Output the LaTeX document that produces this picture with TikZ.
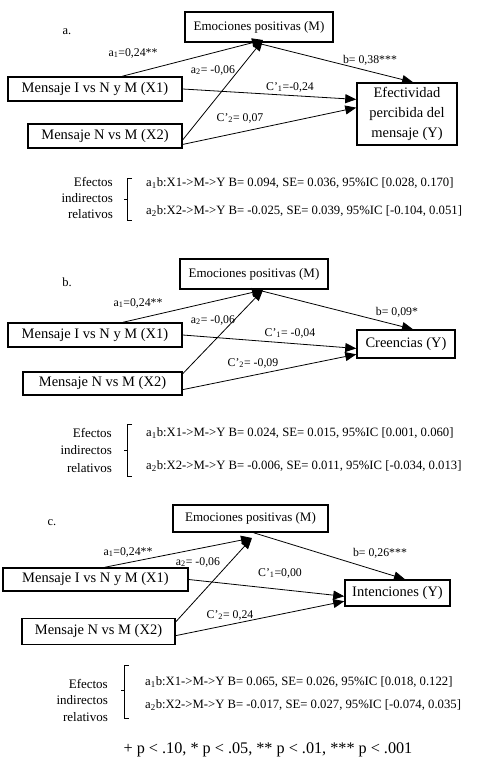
\documentclass[tikz,border=0pt]{standalone}
\usepackage{fontspec}
\setmainfont{Liberation Serif}
\usetikzlibrary{arrows.meta,calc}
\tikzset{
  boxnode/.style={draw, line width=1.5pt, inner sep=0pt, font=\fontsize{14.5}{16.5}\selectfont},
  mnode/.style={draw, line width=1.5pt, inner sep=0pt, font=\fontsize{13}{14}\selectfont},
  conn/.style={line width=0.8pt, -{Triangle[length=11pt,width=9pt]}},
  lab/.style={inner sep=0pt, font=\fontsize{11.8}{13}\selectfont},
  panel/.style={inner sep=0pt, font=\fontsize{12.5}{14}\selectfont},
  efx/.style={inner sep=0pt, anchor=west, font=\fontsize{12.7}{14}\selectfont},
  efl/.style={inner sep=0pt, anchor=east, align=right, font=\fontsize{13}{16}\selectfont},
  brk/.style={line width=0.6pt}
}
\begin{document}
\begin{tikzpicture}[x=1pt,y=-1pt]
\useasboundingbox (0,0) rectangle (481,777);
% ================= panel a =================
\node[panel] (pa) at (67,32) {a.};
\node[mnode, minimum width=148pt, minimum height=30pt] (Ma) at (259,27) {Emociones positivas (M)};
\node[boxnode, minimum width=174pt, minimum height=24pt] (X1a) at (95,89) {Mensaje I vs N y M (X1)};
\node[boxnode, minimum width=154pt, minimum height=24pt] (X2a) at (105,136) {Mensaje N vs M (X2)};
\node[boxnode, minimum width=100pt, minimum height=62pt, align=center, font=\fontsize{14.5}{20}\selectfont] (Ya) at (407,114) {Efectividad\\percibida del\\mensaje (Y)};
\coordinate (tMa) at (263,40);
\draw[conn] ($(X1a.north west)!0.655!(X1a.north east)$) -- (tMa);
\draw[conn] ($(X2a.north east)!0.65!(X2a.south east)$) -- (tMa);
\draw[conn] ($(Ma.south west)!0.48!(Ma.south east)$) -- ($(Ya.north west)!0.56!(Ya.north east)$);
\draw[conn] (X1a.east) -- ($(Ya.north west)!0.27!(Ya.south west)$);
\draw[conn] ($(X2a.north east)!0.83!(X2a.south east)$) -- ($(Ya.north west)!0.40!(Ya.south west)$);
\node[lab] (a1a) at (133,53) {a\textsubscript{1}=0,24**};
\node[lab] (a2a) at (213,70) {a\textsubscript{2}= -0,06};
\node[lab] (ba) at (370,60) {b= 0,38***};
\node[lab] (c1a) at (290,87) {C’\textsubscript{1}=-0,24};
\node[lab] (c2a) at (240,118) {C’\textsubscript{2}= 0,07};
\node[efl] (ea) at (113,198) {Efectos\\indirectos\\relativos};
\draw[brk] (132,178) -- (127,178) -- (127,220) -- (132,220);
\draw[brk] (124,199) -- (127,199);
\node[efx] (e1a) at (146,183) {a\textsubscript{1}b:X1->M->Y B= 0.094, SE= 0.036, 95\%IC [0.028, 0.170]};
\node[efx] (e2a) at (146,211) {a\textsubscript{2}b:X2->M->Y B= -0.025, SE= 0.039, 95\%IC [-0.104, 0.051]};
% ================= panel b =================
\node[panel] (pb) at (67,282) {b.};
\node[mnode, minimum width=148pt, minimum height=30pt] (Mb) at (254,274) {Emociones positivas (M)};
\node[boxnode, minimum width=174pt, minimum height=24pt] (X1b) at (95,335) {Mensaje I vs N y M (X1)};
\node[boxnode, minimum width=159pt, minimum height=23pt] (X2b) at (102.5,383.5) {Mensaje N vs M (X2)};
\node[boxnode, minimum width=98pt, minimum height=28pt] (Yb) at (406,344) {Creencias (Y)};
\coordinate (tMb) at (263,290);
\draw[conn] ($(X1b.north west)!0.66!(X1b.north east)$) -- (tMb);
\draw[conn] ($(X2b.north east)!0.10!(X2b.south east)$) -- (tMb);
\draw[conn] ($(Mb.south west)!0.52!(Mb.south east)$) -- ($(Yb.north west)!0.57!(Yb.north east)$);
\draw[conn] (X1b.east) -- ($(Yb.north west)!0.65!(Yb.south west)$);
\draw[conn] ($(X2b.north east)!0.75!(X2b.south east)$) -- ($(Yb.north west)!0.85!(Yb.south west)$);
\node[lab] (a1b) at (138,303) {a\textsubscript{1}=0,24**};
\node[lab] (a2b) at (213,320) {a\textsubscript{2}= -0,06};
\node[lab] (bb) at (397,312) {b= 0,09*};
\node[lab] (c1b) at (290,333) {C’\textsubscript{1}= -0,04};
\node[lab] (c2b) at (253,363) {C’\textsubscript{2}= -0,09};
\node[efl, font=\fontsize{13}{17.5}\selectfont] (eb) at (112,450) {Efectos\\indirectos\\relativos};
\draw[brk] (132,424) -- (127,424) -- (127,476) -- (132,476);
\draw[brk] (124,450) -- (127,450);
\node[efx] (e1b) at (146,433) {a\textsubscript{1}b:X1->M->Y B= 0.024, SE= 0.015, 95\%IC [0.001, 0.060]};
\node[efx] (e2b) at (146,466) {a\textsubscript{2}b:X2->M->Y B= -0.006, SE= 0.011, 95\%IC [-0.034, 0.013]};
% ================= panel c =================
\node[panel] (pc) at (52,523) {c.};
\node[mnode, minimum width=155pt, minimum height=27pt] (Mc) at (250.5,518.5) {Emociones positivas (M)};
\node[boxnode, minimum width=185pt, minimum height=23pt] (X1c) at (95.5,579.5) {Mensaje I vs N y M (X1)};
\node[boxnode, minimum width=153pt, minimum height=26pt] (X2c) at (98.5,631.5) {Mensaje N vs M (X2)};
\node[boxnode, minimum width=105pt, minimum height=26pt] (Yc) at (397.5,593) {Intenciones (Y)};
\coordinate (tMc) at (252,538);
\draw[conn] ($(X1c.north west)!0.55!(X1c.north east)$) -- (tMc);
\draw[conn] ($(X2c.north east)!0.15!(X2c.south east)$) -- (tMc);
\draw[conn] ($(Mc.south west)!0.52!(Mc.south east)$) -- ($(Yc.north west)!0.57!(Yc.north east)$);
\draw[conn] (X1c.east) -- ($(Yc.north west)!0.62!(Yc.south west)$);
\draw[conn] ($(X2c.north east)!0.65!(X2c.south east)$) -- ($(Yc.north west)!0.80!(Yc.south west)$);
\node[lab] (a1c) at (128,552) {a\textsubscript{1}=0,24**};
\node[lab] (a2c) at (198,562) {a\textsubscript{2}= -0,06};
\node[lab] (bc) at (380,553) {b= 0,26***};
\node[lab] (c1c) at (280,573) {C’\textsubscript{1}=0,00};
\node[lab] (c2c) at (230,615) {C’\textsubscript{2}= 0,24};
\node[efl, font=\fontsize{13}{16.5}\selectfont] (ec) at (108,700) {Efectos\\indirectos\\relativos};
\draw[brk] (129,665) -- (124,665) -- (124,718) -- (129,718);
\draw[brk] (121,690) -- (124,690);
\node[efx] (e1c) at (145,682) {a\textsubscript{1}b:X1->M->Y B= 0.065, SE= 0.026, 95\%IC [0.018, 0.122]};
\node[efx] (e2c) at (145,705) {a\textsubscript{2}b:X2->M->Y B= -0.017, SE= 0.027, 95\%IC [-0.074, 0.035]};
% footer
\node[inner sep=0pt, font=\fontsize{16.2}{18}\selectfont] (foot) at (268,750) {+ p < .10, * p < .05, ** p < .01, *** p < .001};
\end{tikzpicture}
\end{document}
